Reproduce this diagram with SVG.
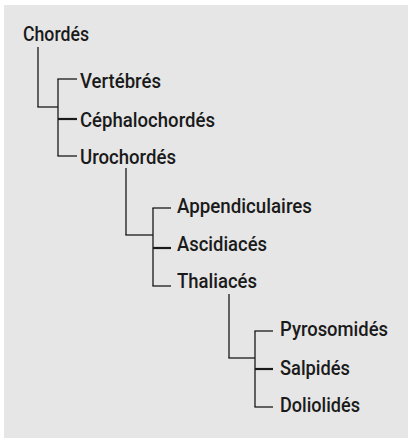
<svg xmlns="http://www.w3.org/2000/svg" width="408" height="438" viewBox="0 0 408 438">
<style>
.t{font-family:Roboto,"Liberation Sans",Arial,sans-serif;font-weight:500;font-size:21px;fill:#1a1a1a}
.c line{stroke:#1a1a1a;stroke-width:1.3}
.c line.m{stroke-width:2.2}
</style>
<rect x="0" y="0" width="408" height="438" fill="#ffffff"/>
<rect x="4" y="5" width="404" height="433" fill="#e6e6e6"/>
<g class="c" id="connectors">
<line x1="38" y1="47" x2="38" y2="107"/>
<line x1="37.4" y1="107" x2="58" y2="107"/>
<line x1="58" y1="79" x2="58" y2="156"/>
<line x1="57.4" y1="79" x2="77" y2="79"/>
<line class="m" x1="58" y1="119" x2="77" y2="119"/>
<line x1="57.4" y1="156" x2="77" y2="156"/>
<line x1="126" y1="168" x2="126" y2="235"/>
<line x1="125.4" y1="235" x2="153" y2="235"/>
<line x1="153" y1="208" x2="153" y2="286"/>
<line x1="152.4" y1="208" x2="171" y2="208"/>
<line class="m" x1="153" y1="248" x2="171" y2="248"/>
<line x1="152.4" y1="286" x2="171" y2="286"/>
<line x1="229" y1="294" x2="229" y2="358"/>
<line x1="228.4" y1="358" x2="255" y2="358"/>
<line x1="255" y1="331" x2="255" y2="407"/>
<line x1="254.4" y1="331" x2="273" y2="331"/>
<line class="m" x1="255" y1="369" x2="273" y2="369"/>
<line x1="254.4" y1="407" x2="273" y2="407"/>
</g>
<g id="n-chordes"><text class="t" x="23" y="41" textLength="66" lengthAdjust="spacingAndGlyphs">Chordés</text></g>
<g id="n-vertebres"><text class="t" x="80" y="88" textLength="81" lengthAdjust="spacingAndGlyphs">Vertébrés</text></g>
<g id="n-cephalochordes"><text class="t" x="80" y="127" textLength="135" lengthAdjust="spacingAndGlyphs">Céphalochordés</text></g>
<g id="n-urochordes"><text class="t" x="80" y="164" textLength="96" lengthAdjust="spacingAndGlyphs">Urochordés</text></g>
<g id="n-appendiculaires"><text class="t" x="177" y="213" textLength="135" lengthAdjust="spacingAndGlyphs">Appendiculaires</text></g>
<g id="n-ascidiaces"><text class="t" x="177" y="251" textLength="90" lengthAdjust="spacingAndGlyphs">Ascidiacés</text></g>
<g id="n-thaliaces"><text class="t" x="177" y="288" textLength="80" lengthAdjust="spacingAndGlyphs">Thaliacés</text></g>
<g id="n-pyrosomides"><text class="t" x="280" y="336" textLength="108" lengthAdjust="spacingAndGlyphs">Pyrosomidés</text></g>
<g id="n-salpides"><text class="t" x="280" y="375" textLength="70" lengthAdjust="spacingAndGlyphs">Salpidés</text></g>
<g id="n-doliolides"><text class="t" x="280" y="412" textLength="80" lengthAdjust="spacingAndGlyphs">Doliolidés</text></g>
</svg>
